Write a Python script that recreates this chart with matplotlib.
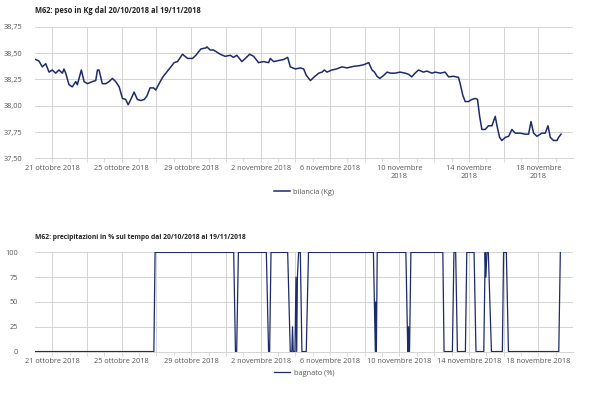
import matplotlib
matplotlib.use("Agg")
import matplotlib.pyplot as plt
from matplotlib.ticker import FixedLocator, FuncFormatter

# days counted from 20/10/2018 00:00
weight_days = [0.04, 0.23, 0.42, 0.62, 0.81, 1.0, 1.19, 1.38, 1.58, 1.67, 1.77, 1.96,
               2.15, 2.35, 2.44, 2.67, 2.83, 3.02, 3.31, 3.5, 3.6, 3.69, 3.88, 4.08,
               4.27, 4.46, 4.65, 4.85, 5.04, 5.23, 5.37, 5.52, 5.71, 5.9, 6.1, 6.29,
               6.44, 6.63, 6.83, 6.96, 7.15, 7.35, 7.54, 7.73, 8.02, 8.21, 8.5, 8.79,
               9.08, 9.27, 9.56, 9.85, 9.9, 10.1, 10.29, 10.48, 10.67, 10.96, 11.25,
               11.44, 11.63, 11.92, 12.12, 12.37, 12.6, 12.88, 13.17, 13.46, 13.56,
               13.75, 14.04, 14.33, 14.56, 14.71, 15.0, 15.29, 15.48, 15.63, 15.87,
               16.06, 16.35, 16.54, 16.67, 16.83, 17.1, 17.38, 17.69, 17.98, 18.37,
               18.65, 18.94, 19.23, 19.42, 19.56, 19.71, 19.87, 20.1, 20.29, 20.48,
               20.75, 21.04, 21.33, 21.52, 21.71, 21.9, 22.1, 22.38, 22.58, 22.87,
               23.06, 23.35, 23.63, 23.83, 24.12, 24.4, 24.5, 24.65, 24.79, 24.98,
               25.17, 25.37, 25.5, 25.62, 25.75, 25.94, 26.13, 26.33, 26.52, 26.62,
               26.77, 26.9, 27.1, 27.29, 27.48, 27.67, 27.96, 28.25, 28.44, 28.58,
               28.73, 28.92, 29.21, 29.4, 29.56, 29.69, 29.88, 30.08, 30.17, 30.31]
weight_kg = [38.44, 38.425, 38.37, 38.40, 38.32, 38.34, 38.31, 38.34, 38.31, 38.35, 38.31, 38.20,
             38.18, 38.23, 38.20, 38.34, 38.23, 38.21, 38.23, 38.24, 38.34, 38.34, 38.21, 38.21,
             38.23, 38.26, 38.23, 38.18, 38.07, 38.06, 38.01, 38.06, 38.13, 38.06, 38.05, 38.06,
             38.09, 38.17, 38.17, 38.15, 38.21, 38.27, 38.31, 38.35, 38.41, 38.42, 38.49, 38.45,
             38.45, 38.48, 38.54, 38.55, 38.56, 38.53, 38.53, 38.51, 38.49, 38.47, 38.48,
             38.46, 38.48, 38.42, 38.45, 38.49, 38.47, 38.41, 38.42, 38.41, 38.45,
             38.42, 38.43, 38.44, 38.46, 38.37, 38.35, 38.36, 38.35, 38.29, 38.24,
             38.27, 38.31, 38.32, 38.34, 38.32, 38.34, 38.35, 38.37, 38.36, 38.375,
             38.38, 38.39, 38.41, 38.34, 38.32, 38.28, 38.26, 38.29, 38.32, 38.31,
             38.31, 38.32, 38.31, 38.30, 38.275, 38.31, 38.34, 38.32, 38.33, 38.31,
             38.32, 38.31, 38.32, 38.275, 38.28, 38.27, 38.21, 38.10, 38.04, 38.04,
             38.06, 38.07, 38.06, 37.90, 37.775, 37.775, 37.81, 37.81, 37.90, 37.81,
             37.70, 37.67, 37.70, 37.71, 37.775, 37.74, 37.74, 37.73, 37.73, 37.85,
             37.74, 37.71, 37.74, 37.74, 37.81, 37.70, 37.67, 37.67, 37.70, 37.73]

rain_days = [0.0, 6.85, 6.92, 11.45, 11.55, 11.62, 11.72, 13.33, 13.46, 13.52, 13.6,
             14.56, 14.71, 14.8, 14.84, 14.88, 14.98, 15.04, 15.08, 15.12, 15.19, 15.29,
             15.38, 15.63, 15.76, 19.5, 19.61, 19.63, 19.65, 19.67, 19.72, 21.37, 21.48,
             21.52, 21.56, 21.58, 21.66, 23.5, 23.57, 24.05, 24.14, 24.24, 24.34, 24.8,
             24.88, 25.3, 25.41, 25.86, 25.94, 25.98, 26.04, 26.12, 26.3, 26.93, 27.0,
             27.16, 27.28, 30.18, 30.27]
rain_pct = [0, 0, 100, 100, 0, 0, 100, 100, 0, 0, 100,
            100, 0, 0, 25, 0, 0, 75, 0, 75, 100, 100,
            0, 0, 100, 100, 0, 50, 0, 0, 100, 100, 0,
            25, 0, 0, 100, 100, 0, 0, 100, 100, 0, 0,
            100, 100, 0, 0, 100, 75, 100, 100, 0, 0, 100,
            100, 0, 0, 100]

label_days = [1, 5, 9, 13, 17, 21, 25, 29]
top_labels = ["21 ottobre 2018", "25 ottobre 2018", "29 ottobre 2018", "2 novembre 2018",
              "6 novembre 2018", "10 novembre\n2018", "14 novembre\n2018", "18 novembre\n2018"]
bottom_labels = ["21 ottobre 2018", "25 ottobre 2018", "29 ottobre 2018", "2 novembre 2018",
                 "6 novembre 2018", "10 novembre 2018", "14 novembre 2018", "18 novembre 2018"]

weight_ticks = [37.50, 37.75, 38.00, 38.25, 38.50, 38.75]
rain_ticks = [0, 25, 50, 75, 100]

NAVY = "#1c2b6b"
GRID = "#d4d4d4"
TEXT = "#555555"

plt.rcParams["font.family"] = ["Open Sans", "DejaVu Sans"]


def style_axis(ax, labels):
    ax.set_xlim(0, 31)
    # gridlines every 2 days, ticks every day, labels every 4 days
    grid_days = list(range(1, 31, 2))
    ax.xaxis.set_major_locator(FixedLocator(grid_days))
    ax.set_xticklabels([labels[label_days.index(d)] if d in label_days else "" for d in grid_days])
    ax.xaxis.set_minor_locator(FixedLocator(list(range(1, 31))))
    ax.tick_params(axis="x", which="both", length=3, width=0.6, color=GRID,
                   labelsize=5.3, labelcolor=TEXT, pad=2)
    ax.tick_params(axis="y", length=0, labelsize=5.3, labelcolor=TEXT, pad=9)
    ax.grid(True, color=GRID, linewidth=0.7)
    ax.set_axisbelow(True)
    for side in ["top", "right", "left"]:
        ax.spines[side].set_visible(False)
    ax.spines["bottom"].set_color(GRID)
    ax.spines["bottom"].set_linewidth(0.7)


fig = plt.figure(figsize=(6.0, 3.95), dpi=100)

ax1 = fig.add_axes([0.0583, 0.599, 0.8967, 0.333])
ax1.plot(weight_days, weight_kg, color=NAVY, linewidth=1.1, label="bilancia (Kg)")
ax1.set_ylim(37.5, 38.75)
ax1.yaxis.set_major_locator(FixedLocator(weight_ticks))
ax1.yaxis.set_major_formatter(FuncFormatter(lambda v, p: f"{v:.2f}".replace(".", ",")))
style_axis(ax1, top_labels)
ax1.set_title("M62: peso in Kg dal 20/10/2018 al 19/11/2018", loc="left", x=0.0,
              fontsize=5.45, fontweight="bold", color="#222222", pad=9.8)
ax1.legend(loc="center", bbox_to_anchor=(0.5, -0.256), frameon=False, fontsize=5.3,
           handlelength=2.2, handletextpad=0.5, labelcolor=TEXT)

ax2 = fig.add_axes([0.0583, 0.110, 0.8967, 0.251])
ax2.plot(rain_days, rain_pct, color=NAVY, linewidth=0.9, label="bagnato (%)")
ax2.set_ylim(0, 100)
ax2.yaxis.set_major_locator(FixedLocator(rain_ticks))
style_axis(ax2, bottom_labels)
ax2.tick_params(axis="y", pad=12)
ax2.set_title("M62: precipitazioni in % sul tempo dal 20/10/2018 al 19/11/2018", loc="left",
              x=0.0, fontsize=4.9, fontweight="bold", color="#222222", pad=9.3)
ax2.legend(loc="center", bbox_to_anchor=(0.5, -0.217), frameon=False, fontsize=5.3,
           handlelength=2.2, handletextpad=0.5, labelcolor=TEXT)

fig.savefig("out.png", dpi=100, facecolor="white")
